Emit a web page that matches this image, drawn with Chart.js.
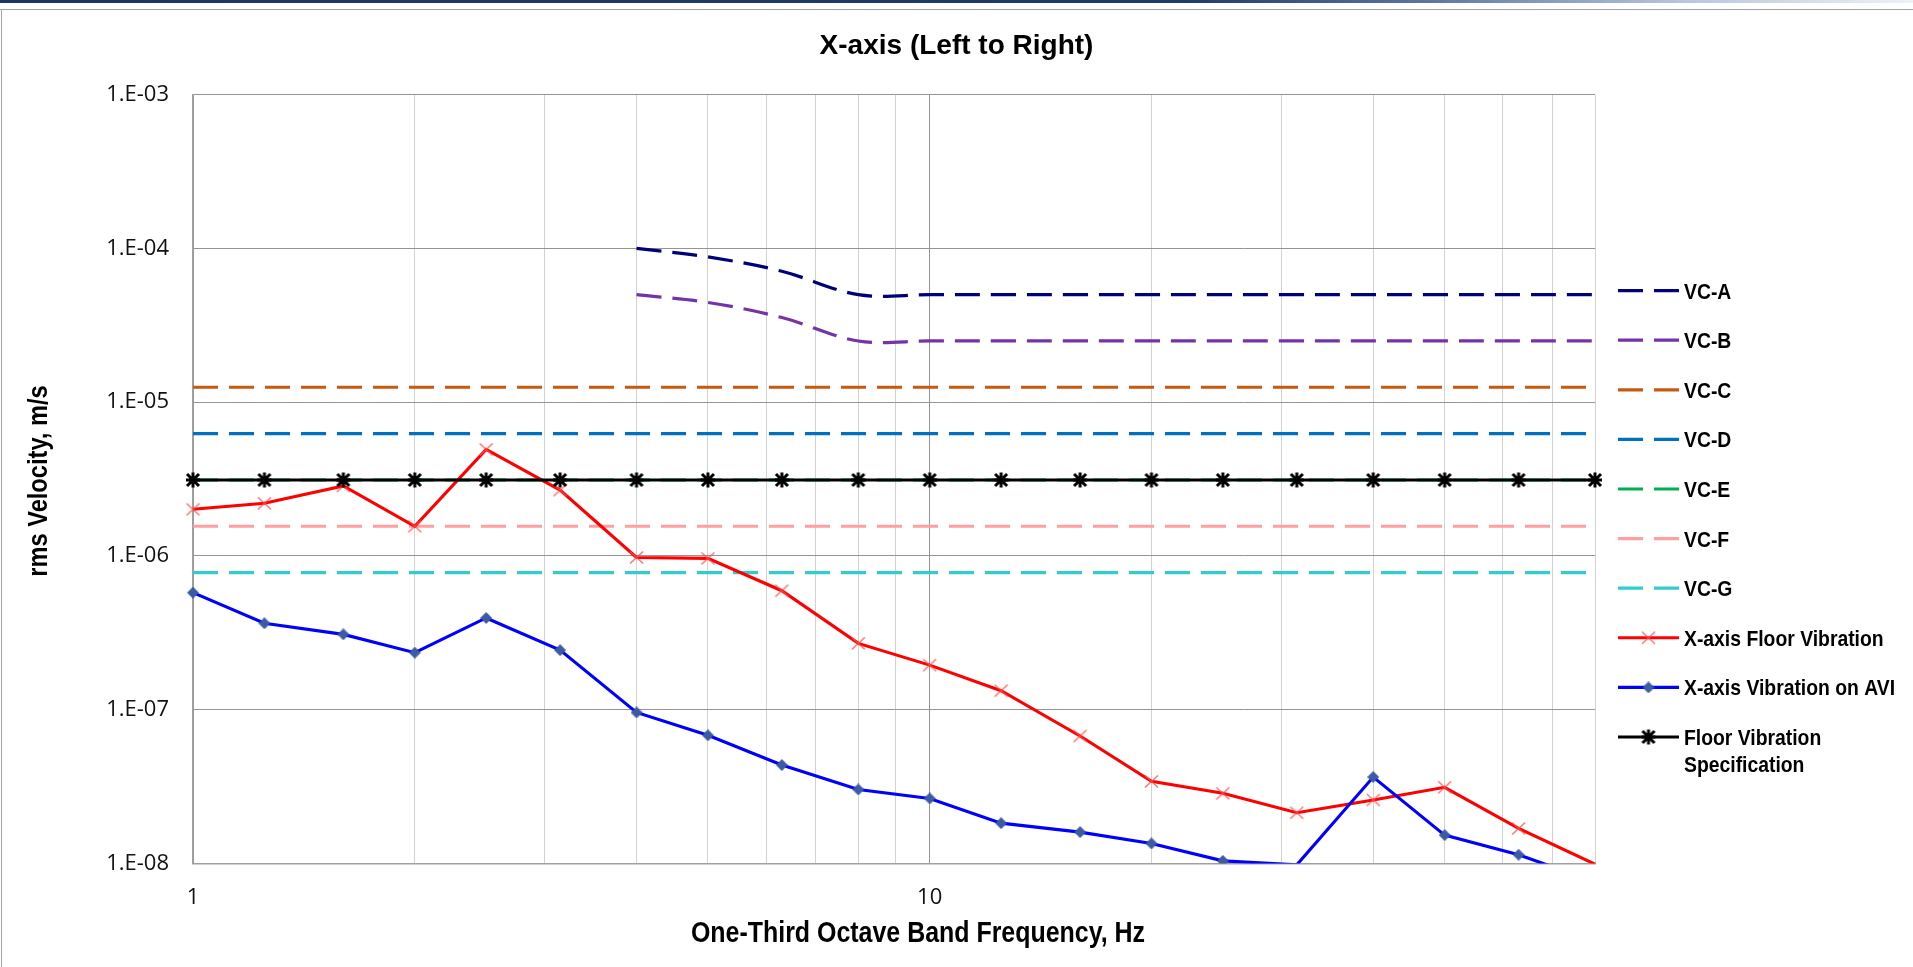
<!DOCTYPE html>
<html>
<head>
<meta charset="utf-8">
<title>X-axis (Left to Right)</title>
<script src="https://cdn.jsdelivr.net/npm/chart.js@4.4.1/dist/chart.umd.min.js"></script>
<style>
  html, body { margin: 0; padding: 0; background: #ffffff; overflow: hidden; }
  #wrap { position: relative; width: 1913px; height: 967px; }
  #wrap canvas { position: absolute; left: 0; top: 0; }
  .bar { position: absolute; left: 0; top: 0; width: 1913px; height: 3px;
         background: linear-gradient(to right, #1c3667 0%, #1f3a6c 62%, #5f78a3 75%, #b9c6dc 88%, #eef1f6 100%); }
  .ft { position: absolute; left: 0; top: 9px; width: 1913px; height: 1px; background: #a3a3a3; }
  .fl { position: absolute; left: 1px; top: 9px; width: 1px; height: 958px; background: #a3a3a3; }
</style>
</head>
<body>
<div id="wrap">
  <canvas id="c" width="1913" height="967"></canvas>
  <div class="bar"></div><div class="ft"></div><div class="fl"></div>
</div>
<script>
// ---------- DATA ----------
const frequencies = [1, 1.25, 1.6, 2, 2.5, 3.15, 4, 5, 6.3, 8, 10, 12.5, 16, 20, 25, 31.5, 40, 50, 63, 80];

const vcA = [null, null, null, null, null, null, 1.0e-4, 8.8e-5, 7.1e-5, 5.0e-5, 5.0e-5, 5.0e-5, 5.0e-5, 5.0e-5, 5.0e-5, 5.0e-5, 5.0e-5, 5.0e-5, 5.0e-5, 5.0e-5];
const vcB = [null, null, null, null, null, null, 5.0e-5, 4.45e-5, 3.55e-5, 2.5e-5, 2.5e-5, 2.5e-5, 2.5e-5, 2.5e-5, 2.5e-5, 2.5e-5, 2.5e-5, 2.5e-5, 2.5e-5, 2.5e-5];
const vcC = [1.25e-5, 1.25e-5, 1.25e-5, 1.25e-5, 1.25e-5, 1.25e-5, 1.25e-5, 1.25e-5, 1.25e-5, 1.25e-5, 1.25e-5, 1.25e-5, 1.25e-5, 1.25e-5, 1.25e-5, 1.25e-5, 1.25e-5, 1.25e-5, 1.25e-5, 1.25e-5];
const vcD = [6.25e-6, 6.25e-6, 6.25e-6, 6.25e-6, 6.25e-6, 6.25e-6, 6.25e-6, 6.25e-6, 6.25e-6, 6.25e-6, 6.25e-6, 6.25e-6, 6.25e-6, 6.25e-6, 6.25e-6, 6.25e-6, 6.25e-6, 6.25e-6, 6.25e-6, 6.25e-6];
const vcE = [3.12e-6, 3.12e-6, 3.12e-6, 3.12e-6, 3.12e-6, 3.12e-6, 3.12e-6, 3.12e-6, 3.12e-6, 3.12e-6, 3.12e-6, 3.12e-6, 3.12e-6, 3.12e-6, 3.12e-6, 3.12e-6, 3.12e-6, 3.12e-6, 3.12e-6, 3.12e-6];
const vcF = [1.56e-6, 1.56e-6, 1.56e-6, 1.56e-6, 1.56e-6, 1.56e-6, 1.56e-6, 1.56e-6, 1.56e-6, 1.56e-6, 1.56e-6, 1.56e-6, 1.56e-6, 1.56e-6, 1.56e-6, 1.56e-6, 1.56e-6, 1.56e-6, 1.56e-6, 1.56e-6];
const vcG = [7.8e-7, 7.8e-7, 7.8e-7, 7.8e-7, 7.8e-7, 7.8e-7, 7.8e-7, 7.8e-7, 7.8e-7, 7.8e-7, 7.8e-7, 7.8e-7, 7.8e-7, 7.8e-7, 7.8e-7, 7.8e-7, 7.8e-7, 7.8e-7, 7.8e-7, 7.8e-7];

const floorX = [2.01e-6, 2.20e-6, 2.85e-6, 1.56e-6, 4.93e-6, 2.68e-6, 9.77e-7, 9.64e-7, 5.94e-7, 2.70e-7, 1.95e-7, 1.33e-7, 6.75e-8, 3.42e-8, 2.86e-8, 2.14e-8, 2.59e-8, 3.13e-8, 1.69e-8, 9.9e-9];
const aviX   = [5.77e-7, 3.65e-7, 3.09e-7, 2.35e-7, 3.95e-7, 2.44e-7, 9.6e-8, 6.82e-8, 4.37e-8, 3.03e-8, 2.65e-8, 1.83e-8, 1.60e-8, 1.35e-8, 1.04e-8, 9.8e-9, 3.65e-8, 1.53e-8, 1.14e-8, 7.6e-9];
const floorSpec = [3.12e-6, 3.12e-6, 3.12e-6, 3.12e-6, 3.12e-6, 3.12e-6, 3.12e-6, 3.12e-6, 3.12e-6, 3.12e-6, 3.12e-6, 3.12e-6, 3.12e-6, 3.12e-6, 3.12e-6, 3.12e-6, 3.12e-6, 3.12e-6, 3.12e-6, 3.12e-6];

const seriesNames = ['VC-A', 'VC-B', 'VC-C', 'VC-D', 'VC-E', 'VC-F', 'VC-G',
  'X-axis Floor Vibration', 'X-axis Vibration on AVI', 'Floor Vibration\nSpecification'];

const yTickValues = [1e-8, 1e-7, 1e-6, 1e-5, 1e-4, 1e-3];
const yTickLabels = ['1.E-08', '1.E-07', '1.E-06', '1.E-05', '1.E-04', '1.E-03'];
const xGridValues = [1, 2, 3, 4, 5, 6, 7, 8, 9, 10, 20, 30, 40, 50, 60, 70, 80];
const xTickValues = [1, 10];
const xTickLabels = ['1', '10'];

const chartTitle = 'X-axis (Left to Right)';
const xTitle = 'One-Third Octave Band Frequency, Hz';
const yTitle = 'rms Velocity, m/s';

// ---------- STYLE ----------
const SANS = "'Liberation Sans', Arial, sans-serif";
const TICKFONT = "'Open Sans', 'Noto Sans', sans-serif";
const NARROW_SCALE = 0.86;   // horizontal squeeze to imitate a narrow bold face
const Y_MIN = 1e-8, Y_MAX = 1e-3, X_MIN = 1, X_MAX = 80;

function mk(w, h, draw) {
  const c = document.createElement('canvas');
  c.width = w; c.height = h;
  draw(c.getContext('2d'));
  return c;
}
const markX = mk(15, 15, g => {
  g.strokeStyle = 'rgba(255,80,80,0.85)'; g.lineWidth = 1.3;
  g.beginPath(); g.moveTo(1, 1.5); g.lineTo(14, 13.5); g.moveTo(14, 1.5); g.lineTo(1, 13.5); g.stroke();
});
const markDiamond = mk(12, 12, g => {
  g.fillStyle = '#3b5ba5'; g.strokeStyle = '#35528f'; g.lineWidth = 0.8;
  g.beginPath(); g.moveTo(6, 0.5); g.lineTo(11.5, 6); g.lineTo(6, 11.5); g.lineTo(0.5, 6); g.closePath(); g.fill(); g.stroke();
});
const markStar = mk(18, 18, g => {
  g.strokeStyle = '#000'; g.lineWidth = 3;
  g.beginPath(); g.moveTo(3, 3); g.lineTo(15, 15); g.moveTo(15, 3); g.lineTo(3, 15);
  g.moveTo(9, 1.5); g.lineTo(9, 16.5); g.moveTo(2, 9); g.lineTo(16, 9); g.stroke();
});

function series(values) { return frequencies.map((f, i) => ({ x: f, y: values[i] })); }
const hideBelow = ctx => (ctx.raw && ctx.raw.y != null && ctx.raw.y < Y_MIN) ? 0 : 6;
const dashed = [25, 11];
const edgeClip = { left: 14, top: 14, right: 14, bottom: 0 };

const datasets = [
  { label: seriesNames[0], data: series(vcA), borderColor: '#00007a', borderWidth: 3.2, borderDash: dashed, pointRadius: 0, tension: 0.35, order: 9 },
  { label: seriesNames[1], data: series(vcB), borderColor: '#7434a8', borderWidth: 3.2, borderDash: dashed, pointRadius: 0, tension: 0.35, order: 8 },
  { label: seriesNames[2], data: series(vcC), borderColor: '#c55a11', borderWidth: 3.2, borderDash: dashed, pointRadius: 0, order: 7 },
  { label: seriesNames[3], data: series(vcD), borderColor: '#0070c0', borderWidth: 3.2, borderDash: dashed, pointRadius: 0, order: 6 },
  { label: seriesNames[4], data: series(vcE), borderColor: '#00b050', borderWidth: 3.0, borderDash: dashed, pointRadius: 0, order: 5 },
  { label: seriesNames[5], data: series(vcF), borderColor: '#ff9f9f', borderWidth: 3.2, borderDash: dashed, pointRadius: 0, order: 4 },
  { label: seriesNames[6], data: series(vcG), borderColor: '#33cccc', borderWidth: 3.2, borderDash: dashed, pointRadius: 0, order: 3 },
  { label: seriesNames[7], data: series(floorX), borderColor: '#ff0000', borderWidth: 3.1, pointStyle: markX, pointRadius: hideBelow, clip: edgeClip, order: 2 },
  { label: seriesNames[8], data: series(aviX), borderColor: '#0000ff', borderWidth: 3.1, pointStyle: markDiamond, pointRadius: hideBelow, clip: edgeClip, order: 1 },
  { label: seriesNames[9], data: series(floorSpec), borderColor: '#000000', borderWidth: 3.0, pointStyle: markStar, pointRadius: 6, clip: edgeClip, order: 0 }
];
datasets.forEach(d => { d.backgroundColor = d.borderColor; d.fill = false; });

function narrowText(ctx, text, x, y, size, align, rot) {
  ctx.save();
  ctx.translate(x, y);
  if (rot) ctx.rotate(rot);
  ctx.scale(NARROW_SCALE, 1);
  ctx.font = 'bold ' + size + 'px ' + SANS;
  ctx.fillStyle = '#000';
  ctx.textAlign = align;
  ctx.textBaseline = 'alphabetic';
  ctx.fillText(text, 0, 0);
  ctx.restore();
}

// Axis titles and side legend, drawn from the datasets / named texts
const textsAndLegend = {
  id: 'textsAndLegend',
  afterDraw(chart) {
    const ctx = chart.ctx, area = chart.chartArea;
    // axis titles
    narrowText(ctx, xTitle, (area.left + area.right) / 2 + 24, 942, 29, 'center', 0);
    narrowText(ctx, yTitle, 47, (area.top + area.bottom) / 2 + 2, 27.5, 'center', -Math.PI / 2);
    // legend
    const x0 = area.right + 23, symW = 61, textX = x0 + 66, step = 49.6, lineGap = 27;
    let y = area.top + 196;
    chart.data.datasets.forEach(ds => {
      ctx.save();
      ctx.strokeStyle = ds.borderColor;
      ctx.lineWidth = ds.borderWidth;
      ctx.setLineDash(ds.borderDash || []);
      ctx.beginPath(); ctx.moveTo(x0, y); ctx.lineTo(x0 + symW, y); ctx.stroke();
      ctx.restore();
      if (ds.pointStyle && typeof ds.pointStyle === 'object') {
        const im = ds.pointStyle;
        ctx.drawImage(im, x0 + symW / 2 - im.width / 2, y - im.height / 2);
      }
      ds.label.split('\n').forEach((line, k) => narrowText(ctx, line, textX, y + 8 + k * lineGap, 22.5, 'left', 0));
      y += step;
    });
  }
};

const decadeGrid = '#949494', minorGrid = '#d2d2d2';

new Chart(document.getElementById('c'), {
  type: 'line',
  data: { datasets },
  plugins: [textsAndLegend],
  options: {
    responsive: false,
    animation: false,
    events: [],
    layout: { padding: 0 },
    plugins: {
      legend: { display: false },
      tooltip: { enabled: false },
      title: {
        display: true, text: chartTitle, color: '#000',
        font: { family: SANS, size: 28, weight: 'bold' },
        padding: { top: 29, bottom: 32 }
      }
    },
    scales: {
      x: {
        type: 'logarithmic', position: 'bottom', min: X_MIN, max: X_MAX,
        afterBuildTicks: s => { s.ticks = xGridValues.map(v => ({ value: v })); },
        afterFit: s => { s.height = 103.5; },
        ticks: {
          autoSkip: false, maxRotation: 0, minRotation: 0, padding: 21, color: '#111',
          font: { family: TICKFONT, size: 22 },
          callback: v => { const i = xTickValues.indexOf(v); return i >= 0 ? xTickLabels[i] : ''; }
        },
        grid: {
          drawTicks: false, lineWidth: 1,
          color: c => (c.tick && Number.isInteger(Math.log10(c.tick.value))) ? decadeGrid : minorGrid
        },
        border: { display: true, color: '#a0a0a0', width: 1.5 },
        title: { display: false, text: xTitle }
      },
      y: {
        type: 'logarithmic', position: 'left', min: Y_MIN, max: Y_MAX,
        afterBuildTicks: s => { s.ticks = yTickValues.map(v => ({ value: v })); },
        afterFit: s => { s.width = 193; },
        ticks: {
          padding: 24, color: '#111',
          font: { family: TICKFONT, size: 22 },
          callback: v => { const i = yTickValues.findIndex(t => Math.abs(Math.log10(t) - Math.log10(v)) < 1e-6); return i >= 0 ? yTickLabels[i] : ''; }
        },
        grid: { drawTicks: false, color: decadeGrid, lineWidth: 1 },
        border: { display: true, color: '#a0a0a0', width: 1.5 },
        title: { display: false, text: yTitle }
      },
      legendSpace: {
        type: 'linear', position: 'right', display: true, min: 0, max: 1,
        afterFit: s => { s.width = 318; },
        ticks: { display: false },
        grid: { display: false, drawOnChartArea: false },
        border: { display: false },
        title: { display: false }
      }
    }
  }
});
</script>
</body>
</html>
